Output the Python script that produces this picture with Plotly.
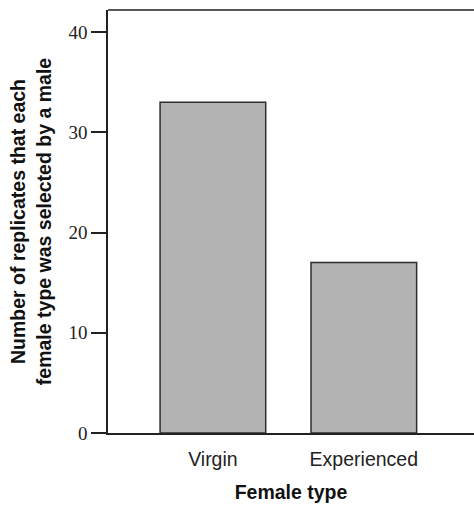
import plotly.graph_objects as go

# Female type categories and the number of replicates in which each was chosen
categories = ["Virgin", "Experienced"]
replicates = [33, 17]

y_ticks = [0, 10, 20, 30, 40]

fig = go.Figure()
fig.add_trace(go.Bar(
    x=categories,
    y=replicates,
    width=0.7,
    marker=dict(color="#b3b3b3", line=dict(color="#2e2e2e", width=1.5)),
    showlegend=False,
))

fig.update_layout(
    width=474,
    height=507,
    margin=dict(l=108, r=0, t=10, b=74),
    paper_bgcolor="white",
    plot_bgcolor="white",
    xaxis=dict(
        range=[-0.695, 1.73],
        showline=True,
        linecolor="#222222",
        linewidth=1.5,
        ticks="",
        showgrid=False,
        zeroline=False,
        tickfont=dict(family="Liberation Sans, Arial", size=19.5, color="#222222"),
        ticklabelstandoff=8,
        title=dict(
            text="<b>Female type</b>",
            font=dict(family="Liberation Sans, Arial", size=19.5, color="#111111"),
            standoff=16,
        ),
    ),
    yaxis=dict(
        range=[0, 42.2],
        tickvals=y_ticks,
        showline=True,
        linecolor="#222222",
        linewidth=1.5,
        ticks="outside",
        ticklen=15,
        tickwidth=1.5,
        tickcolor="#222222",
        showgrid=False,
        zeroline=False,
        tickfont=dict(family="Liberation Serif, Times New Roman", size=19, color="#222222"),
        title=dict(
            text="<b>Number of replicates that each<br>female type was selected by a male</b>",
            font=dict(family="Liberation Sans, Arial", size=19.5, color="#111111"),
            standoff=12,
        ),
    ),
    shapes=[
        dict(type="line", xref="paper", yref="paper", x0=0, x1=1, y0=1, y1=1,
             line=dict(color="#222222", width=1.5)),
    ],
)

fig.write_html("out.html")
